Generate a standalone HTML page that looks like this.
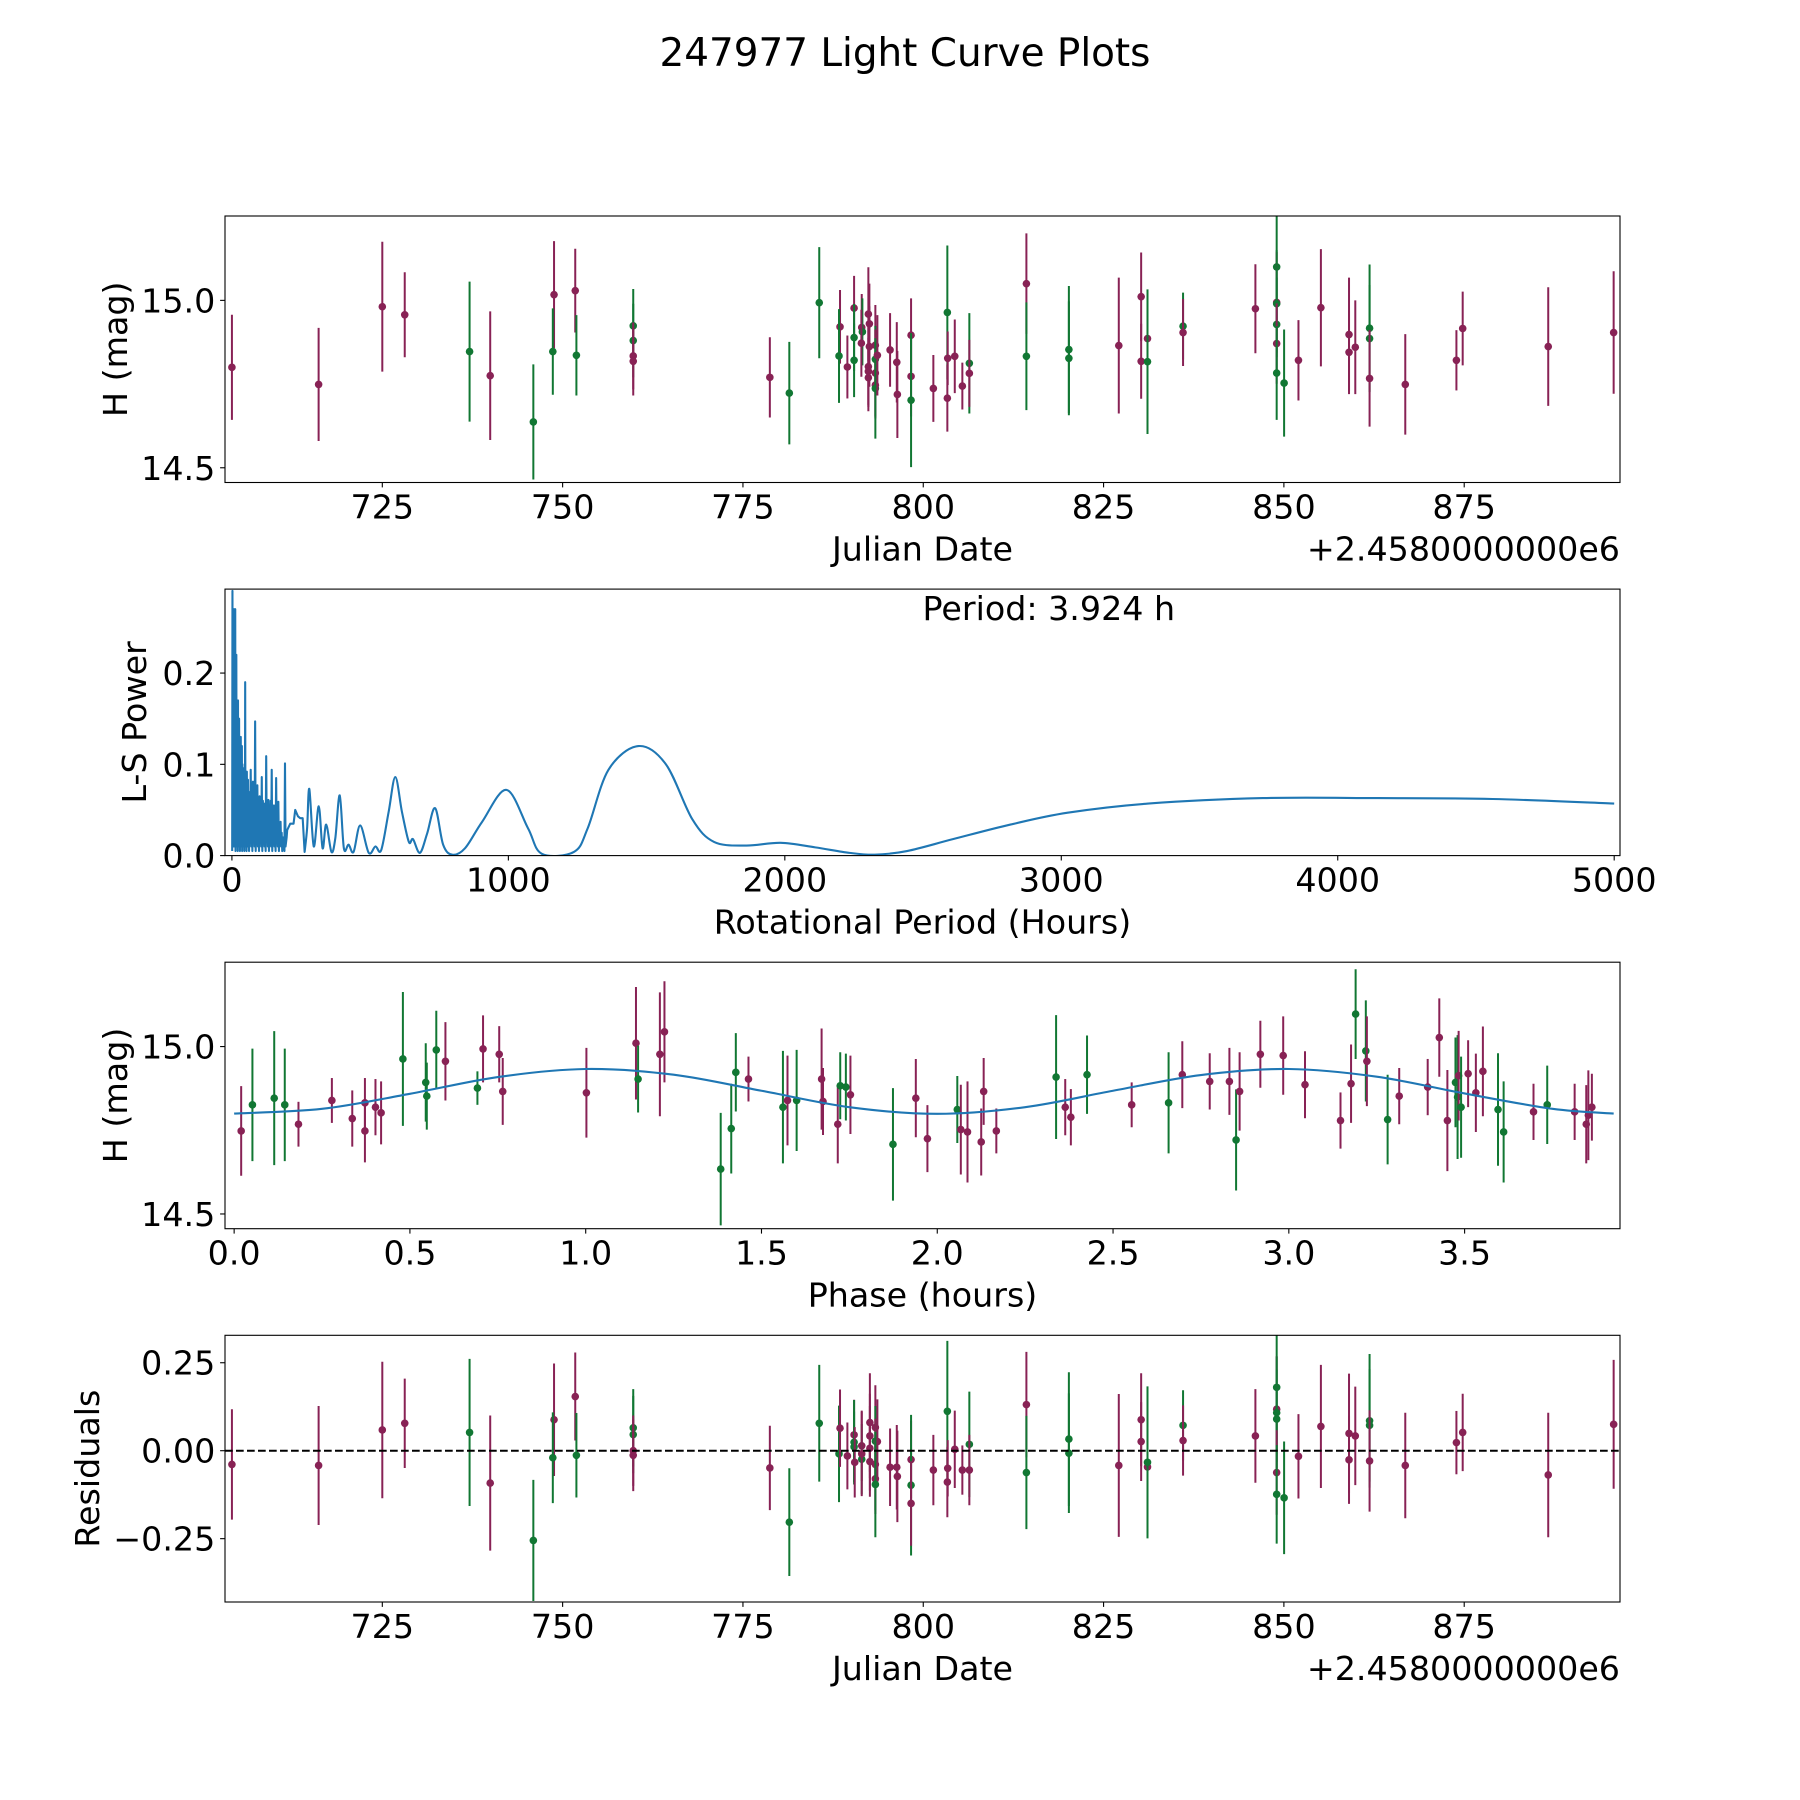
<!DOCTYPE html>
<html>
<head>
<meta charset="utf-8">
<style>
  html,body{margin:0;padding:0;background:#fff;}
  svg{display:block;}
  text{font-family:"DejaVu Sans","Liberation Sans",sans-serif;fill:#000;}
</style>
</head>
<body>
<svg id="fig" xmlns="http://www.w3.org/2000/svg" width="1800" height="1800" viewBox="0 0 1800 1800">
  <rect x="0" y="0" width="1800" height="1800" fill="#ffffff"/>
  <text x="905" y="66" font-size="38.9" text-anchor="middle">247977 Light Curve Plots</text>
</svg>
<script>
// ---------------- Panel 1: magnitude vs Julian date ----------------
const topDates = [704.15,716.17,725.0,728.11,737.10,739.96,745.94,748.81,748.64,751.75,751.91,759.79,759.79,759.79,759.79,778.73,781.43,785.58,
788.46,788.32,789.48,790.41,790.41,790.41,791.47,791.56,791.42,792.39,792.53,792.53,792.39,792.39,792.39,793.36,793.36,793.36,793.36,793.36,793.64,795.40,796.33,796.41,798.31,798.31,798.31,801.40,803.34,803.39,803.34,804.37,805.42,806.39,806.39,
814.30,814.30,820.19,820.19,827.11,830.21,830.21,831.09,831.09,836.02,836.02,846.05,849.00,849.00,849.00,849.00,849.00,849.00,850.03,852.02,855.13,859.03,859.03,859.90,861.88,861.88,861.88,866.83,873.92,874.79,886.65,895.72];
const topMags = [14.800,14.749,14.981,14.957,14.847,14.775,14.637,15.017,14.847,15.029,14.836,14.924,14.880,14.834,14.818,14.770,14.723,14.993,
14.921,14.834,14.801,14.977,14.889,14.821,14.919,14.906,14.872,14.959,14.930,14.862,14.802,14.769,14.788,14.866,14.824,14.783,14.747,14.737,14.836,14.852,14.815,14.719,14.896,14.773,14.702,14.737,14.964,14.827,14.708,14.833,14.744,14.812,14.782,
15.050,14.833,14.853,14.827,14.865,15.011,14.818,14.886,14.817,14.923,14.904,14.975,15.100,14.994,14.990,14.928,14.871,14.783,14.753,14.821,14.978,14.898,14.845,14.860,14.917,14.886,14.767,14.749,14.821,14.916,14.862,14.904];
const topErrs = [0.157,0.169,0.194,0.127,0.209,0.192,0.172,0.16,0.129,0.125,0.12,0.11,0.11,0.1,0.102,0.12,0.153,0.166,
0.11,0.14,0.094,0.096,0.1,0.11,0.1,0.1,0.1,0.14,0.12,0.12,0.12,0.1,0.1,0.12,0.1,0.13,0.1,0.15,0.12,0.11,0.12,0.13,0.11,0.12,0.2,0.1,0.2,0.08,0.1,0.11,0.07,0.15,0.1,
0.15,0.161,0.19,0.17,0.203,0.132,0.112,0.14,0.216,0.1,0.1,0.133,0.19,0.15,0.16,0.14,0.12,0.14,0.16,0.12,0.175,0.17,0.125,0.14,0.19,0.16,0.144,0.15,0.09,0.11,0.177,0.183];
const topColors = ("MMMMGMGMGMGGGMMMGG" + "MGMMGGMGMMMMMMMMGMMGMMMMMMGMGMMMMGM" + "MGGGMMMMGGMMGMGGMGGMMMMMGGMMMMMM").split("");
const dateTicks = [725,750,775,800,825,850,875];

// ---------------- Panel 2: Lomb-Scargle periodogram ----------------
const lsPeriods = [1,2,3,4,5,6,7,8,9,10,11,12,13,14,15,16,17,18,19,20,21,22,23,24,25,26,27,28,29,30,31,32,33,34,35,36,37,38,39,40,41,42,43,44,45,46,47,48,49,50,51,52,53,54,55,56,57,58,59,60,
62,64,66,68,70,72,74,76,78,80,82,84,86,88,90,92,94,96,98,100,102,104,106,108,110,112,114,116,118,120,122,124,126,128,130,132,134,136,138,140,142,144,146,148,150,152,154,156,158,160,162,164,166,168,170,172,174,176,178,180,182,184,186,188,190,192,194,196,198,200,
211,223,229,239,247,256,263,272,280,296,314,328,341,360,374,390,405,422,440,464,495,519,540,567,591,615,640,655,680,706,735,764,797,843,905,993,1071,1121,1237,1287,1362,1470,1570,1665,1744,1860,1985,2110,2234,2325,2442,2608,2816,3023,3314,3729,4145,4560,5000];
const lsPowers = [0.005,0.29,0.02,0.25,0.01,0.27,0.03,0.27,0.01,0.22,0.02,0.27,0.005,0.2,0.03,0.22,0.01,0.17,0.02,0.16,0.005,0.17,0.03,0.12,0.01,0.15,0.02,0.11,0.005,0.12,0.03,0.13,0.01,0.09,0.02,0.12,0.005,0.1,0.02,0.096,0.01,0.08,0.03,0.07,0.005,0.09,0.02,0.19,0.01,0.08,0.03,0.07,0.005,0.092,0.02,0.06,0.01,0.083,0.02,0.07,
0.005,0.06,0.02,0.094,0.01,0.07,0.005,0.081,0.02,0.06,0.01,0.147,0.005,0.05,0.02,0.077,0.01,0.06,0.005,0.065,0.02,0.05,0.01,0.086,0.005,0.06,0.02,0.057,0.01,0.04,0.005,0.109,0.02,0.05,0.01,0.061,0.005,0.04,0.02,0.06,0.01,0.094,0.005,0.045,0.02,0.055,0.01,0.04,0.005,0.085,0.02,0.04,0.01,0.059,0.005,0.03,0.02,0.037,0.01,0.025,0.005,0.02,0.01,0.015,0.005,0.101,0.01,0.015,0.02,0.028,
0.035,0.035,0.05,0.043,0.041,0.041,0.004,0.03,0.073,0.01,0.054,0.008,0.034,0.004,0.019,0.066,0.008,0.012,0.004,0.033,0.003,0.01,0.006,0.048,0.086,0.048,0.015,0.018,0.003,0.024,0.052,0.012,0.001,0.008,0.037,0.072,0.03,0.002,0.004,0.03,0.094,0.12,0.1,0.04,0.015,0.011,0.014,0.009,0.003,0.001,0.005,0.018,0.034,0.047,0.057,0.063,0.063,0.062,0.057];
const lsSmoothFrom = 263;
const lsXTicks = [0,1000,2000,3000,4000,5000];
const lsYTicks = [0.0,0.1,0.2];
const bestPeriodLabel = "Period: 3.924 h";

// ---------------- Panel 3: phased light curve ----------------
const phases = [0.020,0.052,0.114,0.144,0.183,0.278,0.336,0.372,0.372,0.402,0.418,0.480,0.545,0.548,0.575,0.601,0.692,0.708,0.754,0.764,1.002,1.143,1.149,1.211,1.224,1.384,1.414,1.427,1.463,1.561,1.574,1.600,1.671,1.675,1.717,1.724,1.740,1.753,1.874,1.939,1.972,2.057,2.067,2.086,2.125,2.132,2.168,2.338,2.364,2.380,2.426,2.553,2.658,2.697,2.775,2.831,2.850,2.860,2.919,2.984,3.046,3.147,3.177,3.190,3.219,3.222,3.281,3.314,3.395,3.428,3.451,3.474,3.480,3.483,3.490,3.510,3.532,3.552,3.595,3.611,3.696,3.735,3.813,3.846,3.852,3.862];
const phaseMags = [14.748,14.826,14.846,14.826,14.768,14.839,14.785,14.832,14.748,14.819,14.802,14.963,14.893,14.852,14.990,14.956,14.876,14.993,14.977,14.866,14.862,15.010,14.903,14.977,15.044,14.634,14.755,14.923,14.903,14.819,14.839,14.839,14.903,14.836,14.768,14.883,14.879,14.856,14.708,14.846,14.725,14.812,14.752,14.745,14.715,14.866,14.748,14.909,14.819,14.789,14.916,14.826,14.832,14.916,14.896,14.896,14.721,14.866,14.977,14.973,14.886,14.779,14.889,15.097,14.987,14.956,14.782,14.852,14.879,15.027,14.779,14.893,14.849,14.913,14.819,14.919,14.862,14.926,14.812,14.745,14.805,14.826,14.805,14.768,14.795,14.819];
const phaseErrs = [0.134,0.168,0.2,0.168,0.067,0.067,0.084,0.074,0.094,0.084,0.094,0.2,0.117,0.1,0.117,0.117,0.05,0.1,0.084,0.1,0.134,0.168,0.1,0.185,0.151,0.168,0.134,0.117,0.067,0.168,0.134,0.151,0.151,0.1,0.117,0.1,0.1,0.117,0.168,0.117,0.1,0.1,0.134,0.151,0.1,0.1,0.067,0.185,0.084,0.084,0.117,0.067,0.151,0.1,0.084,0.1,0.151,0.117,0.1,0.117,0.1,0.084,0.117,0.134,0.151,0.134,0.134,0.084,0.084,0.117,0.151,0.134,0.185,0.134,0.151,0.1,0.117,0.134,0.168,0.151,0.084,0.117,0.084,0.117,0.134,0.1];
const phaseColors = ("MGGGMMMMMM"+"MGGGGMGMMM"+"MMGMMGGGMG"+"MGMMMGGMGM"+"MGMMMMMGMM"+"GMGMMMGMMM"+"MMMGGMGMMM"+"MGGMGMMMGG"+"MGMMMM").split("");
const modelPhases = [0,0.25,0.5,0.75,1.0,1.25,1.5,1.75,2.0,2.25,2.5,2.75,3.0,3.25,3.5,3.75,3.924];
const modelMags = [14.800,14.814,14.859,14.909,14.933,14.916,14.868,14.819,14.799,14.819,14.868,14.915,14.933,14.910,14.860,14.814,14.800];
const phaseTicks = [0.0,0.5,1.0,1.5,2.0,2.5,3.0,3.5];
const magTicks = [14.5,15.0];

// ---------------- Panel 4: residuals ----------------
const resDates = [704.15,716.17,725.0,728.11,737.10,739.96,745.94,748.81,748.64,751.75,751.91,759.79,759.79,759.79,759.79,778.73,781.43,785.58,
788.32,788.46,789.48,790.41,790.41,790.41,790.5,791.47,791.47,791.47,792.6,792.6,792.6,792.6,793.36,793.36,793.64,793.36,793.36,793.36,795.40,796.33,796.41,798.31,798.31,798.31,801.40,803.34,803.39,803.34,804.37,805.42,806.39,806.39,
814.30,814.30,820.19,820.19,827.11,830.21,830.21,831.09,831.09,836.02,836.02,846.05,849,849,849,849,849,849,850.03,852.02,855.13,859.03,859.03,859.90,861.88,861.88,861.88,866.83,873.92,874.79,886.65,895.72];
const resVals = [-0.039,-0.042,0.059,0.078,0.052,-0.092,-0.255,0.088,-0.02,0.154,-0.013,0.065,0.046,0.0,-0.013,-0.049,-0.203,0.078,
-0.009,0.064,-0.015,0.045,0.024,0.011,-0.033,0.014,-0.024,-0.009,0.080,0.042,0.007,-0.031,0.066,0.027,0.026,-0.039,-0.080,-0.096,-0.047,-0.047,-0.073,-0.025,-0.098,-0.150,-0.055,0.112,-0.050,-0.089,0.004,-0.055,0.018,-0.055,
0.131,-0.062,0.033,-0.007,-0.042,0.088,0.026,-0.046,-0.033,0.072,0.029,0.042,0.18,0.118,0.108,0.09,-0.062,-0.124,-0.134,-0.016,0.069,0.049,-0.026,0.042,0.085,0.072,-0.029,-0.042,0.023,0.052,-0.069,0.075];
const resErrs = [0.157,0.169,0.194,0.127,0.209,0.192,0.172,0.16,0.129,0.125,0.12,0.11,0.11,0.1,0.102,0.12,0.153,0.166,
0.137,0.11,0.095,0.1,0.12,0.1,0.1,0.1,0.1,0.12,0.14,0.12,0.12,0.1,0.12,0.1,0.12,0.13,0.1,0.15,0.11,0.12,0.13,0.11,0.2,0.12,0.1,0.2,0.08,0.1,0.11,0.07,0.15,0.1,
0.15,0.161,0.19,0.17,0.203,0.132,0.112,0.14,0.216,0.1,0.1,0.133,0.19,0.15,0.16,0.14,0.12,0.14,0.16,0.12,0.175,0.17,0.125,0.14,0.19,0.16,0.144,0.15,0.09,0.11,0.177,0.183];
const resColors = ("MMMMGMGMGMGGGMMMGG"+"GMMMGGMMGM"+"MMMMMGMMMG"+"MMMMGMMGMM"+"MMGM"+"MGGGMMMMGGMMGMGGMGGMMMMMGGMMMMMM").split("");
const resTicks = [-0.25,0.0,0.25];
const resTickLabels = ["\u22120.25","0.00","0.25"];

// ---------------- rendering ----------------
const NS = "http://www.w3.org/2000/svg";
const svg = document.getElementById("fig");
const COL = {M:"#882255", G:"#117733"};
const FS = 33.3;

function mk(tag, attrs, parent){
  const el = document.createElementNS(NS, tag);
  for (const k in attrs) el.setAttribute(k, attrs[k]);
  (parent || svg).appendChild(el);
  return el;
}
function X(ax, v){ return ax.x0 + (v - ax.xmin) / (ax.xmax - ax.xmin) * (ax.x1 - ax.x0); }
function Y(ax, v){ return ax.y1 - (v - ax.ymin) / (ax.ymax - ax.ymin) * (ax.y1 - ax.y0); }

const axA = {x0:225,x1:1620,y0:216,y1:482.5,xmin:703.19,xmax:896.6,ymin:14.456,ymax:15.252};
const axB = {x0:225,x1:1620,y0:589.1,y1:855.6,xmin:-25,xmax:5021,ymin:0,ymax:0.292};
const axC = {x0:225,x1:1620,y0:962.2,y1:1228.7,xmin:-0.026,xmax:3.942,ymin:14.456,ymax:15.252};
const axD = {x0:225,x1:1620,y0:1335.3,y1:1602,xmin:703.19,xmax:896.6,ymin:-0.430,ymax:0.328};

function clipFor(ax, id){
  const defs = mk("defs", {});
  const cp = mk("clipPath", {id:id}, defs);
  mk("rect", {x:ax.x0, y:ax.y0, width:ax.x1-ax.x0, height:ax.y1-ax.y0}, cp);
}

function drawFrame(ax, name){
  const r = mk("rect", {x:ax.x0, y:ax.y0, width:ax.x1-ax.x0, height:ax.y1-ax.y0, fill:"none", stroke:"#000", "stroke-width":1.1});
  
  
}
function xTicks(ax, vals, labels, name){
  vals.forEach((v,i)=>{
    const x = X(ax, v);
    const t = mk("line", {x1:x, x2:x, y1:ax.y1, y2:ax.y1+4.9, stroke:"#000", "stroke-width":1.1});
    
    
    const lb = mk("text", {x:x, y:ax.y1+36, "font-size":FS, "text-anchor":"middle"});
    lb.textContent = labels[i];
    
    
  });
}
function yTicks(ax, vals, labels, name){
  vals.forEach((v,i)=>{
    const y = Y(ax, v);
    const t = mk("line", {x1:ax.x0-4.9, x2:ax.x0, y1:y, y2:y, stroke:"#000", "stroke-width":1.1});
    
    
    const lb = mk("text", {x:ax.x0-9.7, y:y+12, "font-size":FS, "text-anchor":"end"});
    lb.textContent = labels[i];
    
    
  });
}
function xLabel(ax, txt, name){
  const t = mk("text", {x:(ax.x0+ax.x1)/2, y:ax.y1+78, "font-size":FS, "text-anchor":"middle"});
  t.textContent = txt;
  
  
}
function yLabel(ax, txt, bx, name){
  const cy = (ax.y0+ax.y1)/2;
  const t = mk("text", {x:bx, y:cy, "font-size":FS, "text-anchor":"middle", transform:"rotate(-90 "+bx+" "+cy+")"});
  t.textContent = txt;
  
  
}
function offsetText(ax, name){
  const t = mk("text", {x:ax.x1, y:ax.y1+78, "font-size":FS, "text-anchor":"end"});
  t.textContent = "+2.4580000000e6";
  
  
}
function errPoints(ax, xs, ys, es, cs, clipId, name){
  const g = mk("g", {"clip-path":"url(#"+clipId+")"});
  
  
  for (let i=0;i<xs.length;i++){
    const x = X(ax, xs[i]);
    const col = COL[cs[i]];
    const bar = mk("line", {x1:x, x2:x, y1:Y(ax, ys[i]-es[i]), y2:Y(ax, ys[i]+es[i]), stroke:col, "stroke-width":2});
    
    
    const pt = mk("circle", {cx:x, cy:Y(ax, ys[i]), r:3.8, fill:col}, g);
    
    
    g.appendChild(bar); g.appendChild(pt);
  }
}
function smoothPath(pts){
  let d = "";
  for (let i=0;i<pts.length-1;i++){
    const p0 = pts[i-1] || pts[i], p1 = pts[i], p2 = pts[i+1], p3 = pts[i+2] || pts[i+1];
    const c1x = p1[0] + (p2[0]-p0[0])/6, c1y = p1[1] + (p2[1]-p0[1])/6;
    const c2x = p2[0] - (p3[0]-p1[0])/6, c2y = p2[1] - (p3[1]-p1[1])/6;
    d += " C"+c1x.toFixed(2)+","+c1y.toFixed(2)+" "+c2x.toFixed(2)+","+c2y.toFixed(2)+" "+p2[0].toFixed(2)+","+p2[1].toFixed(2);
  }
  return d;
}

const fmt1 = v => v.toFixed(1);

// Panel A
clipFor(axA, "clipA");
errPoints(axA, topDates, topMags, topErrs, topColors, "clipA", "magnitude");
drawFrame(axA, "lightcurve-axes");
xTicks(axA, dateTicks, dateTicks.map(String), "lightcurve");
yTicks(axA, magTicks, magTicks.map(fmt1), "lightcurve");
xLabel(axA, "Julian Date", "lightcurve-x-axis-title");
offsetText(axA, "lightcurve-x-offset-text");
yLabel(axA, "H (mag)", 127, "lightcurve-y-axis-title");

// Panel B
clipFor(axB, "clipB");
{
  const pts = lsPeriods.map((p,i)=>[X(axB,p), Y(axB,lsPowers[i])]);
  let k = lsPeriods.findIndex(p=>p>=lsSmoothFrom);
  let d = "M"+pts[0][0].toFixed(2)+","+pts[0][1].toFixed(2);
  for (let i=1;i<=k;i++) d += " L"+pts[i][0].toFixed(2)+","+pts[i][1].toFixed(2);
  d += smoothPath(pts.slice(k));
  const line = mk("path", {d:d, fill:"none", stroke:"#1f77b4", "stroke-width":2.1, "stroke-linejoin":"round", "clip-path":"url(#clipB)"});
  
  
}
drawFrame(axB, "periodogram-axes");
xTicks(axB, lsXTicks, lsXTicks.map(String), "periodogram");
yTicks(axB, lsYTicks, lsYTicks.map(fmt1), "periodogram");
xLabel(axB, "Rotational Period (Hours)", "periodogram-x-axis-title");
yLabel(axB, "L-S Power", 146, "periodogram-y-axis-title");
{
  const t = mk("text", {x:(axB.x0+axB.x1)/2, y:620, "font-size":FS, "text-anchor":"start"});
  t.textContent = bestPeriodLabel;
  
  
}

// Panel C
clipFor(axC, "clipC");
errPoints(axC, phases, phaseMags, phaseErrs, phaseColors, "clipC", "phased");
{
  const pts = modelPhases.map((p,i)=>[X(axC,p), Y(axC,modelMags[i])]);
  const d = "M"+pts[0][0].toFixed(2)+","+pts[0][1].toFixed(2) + smoothPath(pts);
  const line = mk("path", {d:d, fill:"none", stroke:"#1f77b4", "stroke-width":2.1, "clip-path":"url(#clipC)"});
  
  
}
drawFrame(axC, "phase-axes");
xTicks(axC, phaseTicks, phaseTicks.map(fmt1), "phase");
yTicks(axC, magTicks, magTicks.map(fmt1), "phase");
xLabel(axC, "Phase (hours)", "phase-x-axis-title");
yLabel(axC, "H (mag)", 127, "phase-y-axis-title");

// Panel D
clipFor(axD, "clipD");
errPoints(axD, resDates, resVals, resErrs, resColors, "clipD", "residual");
{
  const z = Y(axD, 0);
  const l = mk("line", {x1:axD.x0, x2:axD.x1, y1:z, y2:z, stroke:"#000", "stroke-width":2, "stroke-dasharray":"7.7 3.3"});
  
  
}
drawFrame(axD, "residual-axes");
xTicks(axD, dateTicks, dateTicks.map(String), "residual");
yTicks(axD, resTicks, resTickLabels, "residual");
xLabel(axD, "Julian Date", "residual-x-axis-title");
offsetText(axD, "residual-x-offset-text");
yLabel(axD, "Residuals", 99, "residual-y-axis-title");
</script>
</body>
</html>
